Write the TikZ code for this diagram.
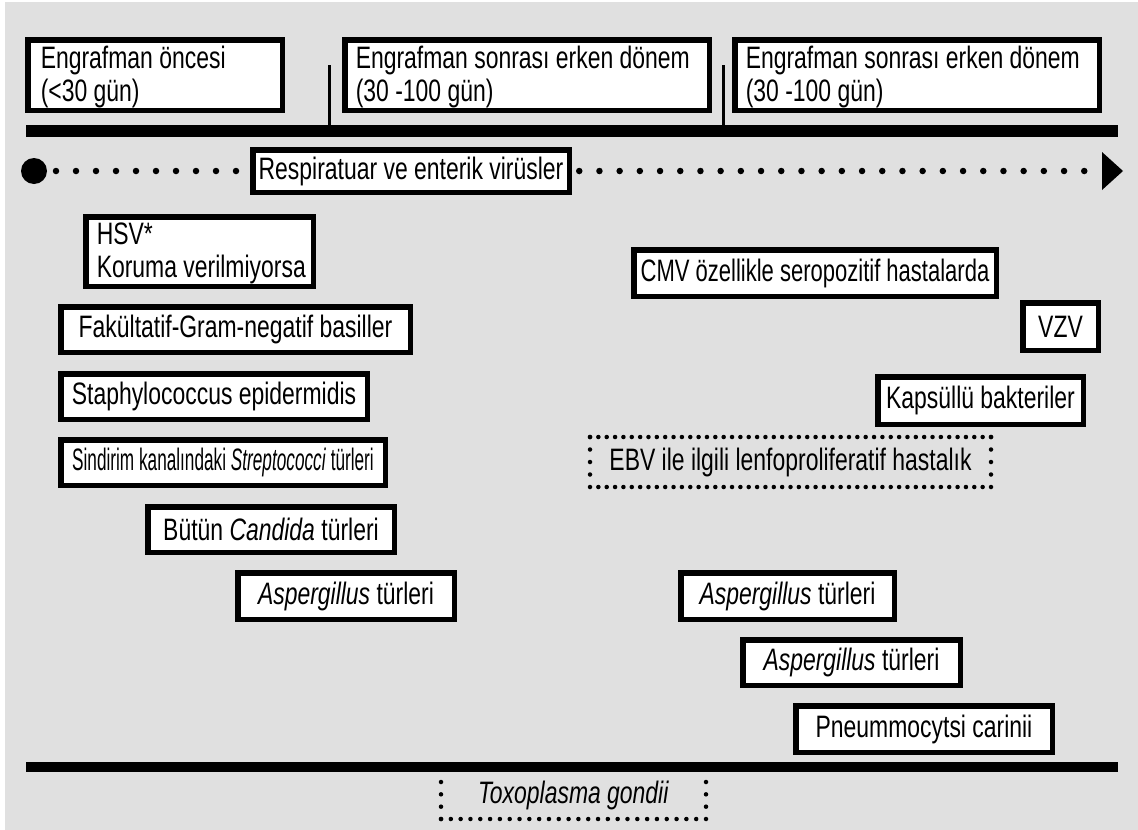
\documentclass[tikz,border=0pt]{standalone}
\usepackage{fontspec}
\setmainfont[FakeStretch=0.74]{Liberation Sans}
\newfontfamily\narrowfont[FakeStretch=0.555]{Liberation Sans}
\newfontfamily\semifont[FakeStretch=0.71]{Liberation Sans}
\newcommand\dgfont{\fontsize{31}{33}\selectfont}
\definecolor{bggray}{HTML}{E0E0E0}
\begin{document}
\begin{tikzpicture}[x=1pt,y=-1pt,
  bx/.style={draw=black,line width=5.5pt,fill=white,inner sep=0pt,outer sep=0pt,font=\dgfont,text=black,align=center},
  lbl/.style={inner sep=0pt,outer sep=0pt,align=left,font=\dgfont,text=black},
  plain/.style={inner sep=0pt,outer sep=0pt,font=\dgfont,text=black},
  bar/.style={line width=#1,draw=black},
  tick/.style={line width=3pt,draw=black},
  bigdots/.style={line width=6.5pt,line cap=round,dash pattern=on 0pt off #1},
  smalldots/.style={line width=4.5pt,line cap=round,dash pattern=on 0pt off #1}]
\useasboundingbox (0,0) rectangle (1138,830);
\fill[bggray] (5,2) rectangle (1138,830);

% period headers
\node[bx,minimum width=254.5,minimum height=70.5] (pre) at (155,75) {};
\node[lbl,anchor=west] (pretxt) at ([xshift=13pt,yshift=-2pt]pre.west) {Engrafman öncesi\\(<30 gün)};
\node[bx,minimum width=364.5,minimum height=70.5] (early1) at (527,75) {};
\node[lbl,anchor=west] (early1txt) at ([xshift=11pt,yshift=-2pt]early1.west) {Engrafman sonrası erken dönem\\(30 -100 gün)};
\node[bx,minimum width=364.5,minimum height=70.5] (early2) at (917,75) {};
\node[lbl,anchor=west] (early2txt) at ([xshift=11pt,yshift=-2pt]early2.west) {Engrafman sonrası erken dönem\\(30 -100 gün)};

% timeline bar and ticks
\coordinate (barL) at (26,131);
\coordinate (barR) at (1118,131);
\draw[bar=11.5pt] (barL) -- (barR);
\coordinate (t1top) at (329,65);
\coordinate (t1bot) at (329,128);
\coordinate (t2top) at (723,65);
\coordinate (t2bot) at (723,128);
\draw[tick] (t1top) -- (t1bot);
\draw[tick] (t2top) -- (t2bot);

% respiratory line
\node[bx,minimum width=316.5,minimum height=42.5] (resp) at (411,171) {Respiratuar ve enterik virüsler};
\node[circle,fill=black,minimum size=26pt,inner sep=0pt,outer sep=0pt] (start) at (34,171) {};
\coordinate (tipbase) at (1102,171);
\coordinate (tip) at (1123,171);
\draw[bigdots=20pt,dash phase=11pt] (start.east) -- (resp.west);
\draw[bigdots=20.2pt,dash phase=10.2pt] (resp.east) -- (tipbase);
\fill[black] (1102,152) -- (tip) -- (1102,190) -- cycle;

% left column
\node[bx,minimum width=227.5,minimum height=69.5] (hsv) at (199.5,251.5) {};
\node[lbl,anchor=west] (hsvtxt) at ([xshift=11pt,yshift=-2pt]hsv.west) {HSV*\\Koruma verilmiyorsa};
\node[bx,minimum width=349.5,minimum height=45.5] (fak) at (235.5,329.5) {Fakültatif-Gram-negatif basiller};
\node[bx,minimum width=306.5,minimum height=45.5] (staph) at (214,396.5) {Staphylococcus epidermidis};
\node[bx,minimum width=324.5,minimum height=45.5] (sind) at (223,462.5) {\narrowfont Sindirim kanalındaki \textit{Streptococci} türleri};
\node[bx,minimum width=246.5,minimum height=45.5] (cand) at (271,529.5) {Bütün \textit{Candida} türleri};
\node[bx,minimum width=216.5,minimum height=46.5] (asp1) at (346,596) {\textit{Aspergillus} türleri};

% right column
\node[bx,minimum width=362.5,minimum height=46.5] (cmv) at (815,273) {\semifont CMV özellikle seropozitif hastalarda};
\node[bx,minimum width=75.5,minimum height=47.5] (vzv) at (1060.5,326.5) {VZV};
\node[bx,minimum width=205.5,minimum height=47.5] (kaps) at (980.5,400.5) {Kapsüllü bakteriler};
\node[plain,minimum width=401,minimum height=50] (ebv) at (790.5,462) {EBV ile ilgili lenfoproliferatif hastalık};
\draw[smalldots=8.354pt] (ebv.north west) -- (ebv.north east);
\draw[smalldots=8.354pt] (ebv.south west) -- (ebv.south east);
\draw[smalldots=12.5pt] (ebv.north west) -- (ebv.south west);
\draw[smalldots=12.5pt] (ebv.north east) -- (ebv.south east);
\node[bx,minimum width=213.5,minimum height=46.5] (asp2) at (787.5,596) {\textit{Aspergillus} türleri};
\node[bx,minimum width=217.5,minimum height=45.5] (asp3) at (851.5,662.5) {\textit{Aspergillus} türleri};
\node[bx,minimum width=256.5,minimum height=46.5] (pneu) at (924,729) {Pneummocytsi carinii};

% bottom bar
\coordinate (bbarL) at (26,767);
\coordinate (bbarR) at (1118,767);
\draw[bar=10pt] (bbarL) -- (bbarR);

% toxoplasma
\node[plain] (toxo) at (573.5,795.5) {\textit{Toxoplasma gondii}};
\coordinate (txtl) at (441,782);
\coordinate (txbl) at (441,819);
\coordinate (txtr) at (706,782);
\coordinate (txbr) at (706,819);
\draw[smalldots=12.33pt] (txtl) -- (txbl);
\draw[smalldots=12.33pt] (txtr) -- (txbr);
\draw[smalldots=9.815pt] (txbl) -- (txbr);
\end{tikzpicture}
\end{document}
